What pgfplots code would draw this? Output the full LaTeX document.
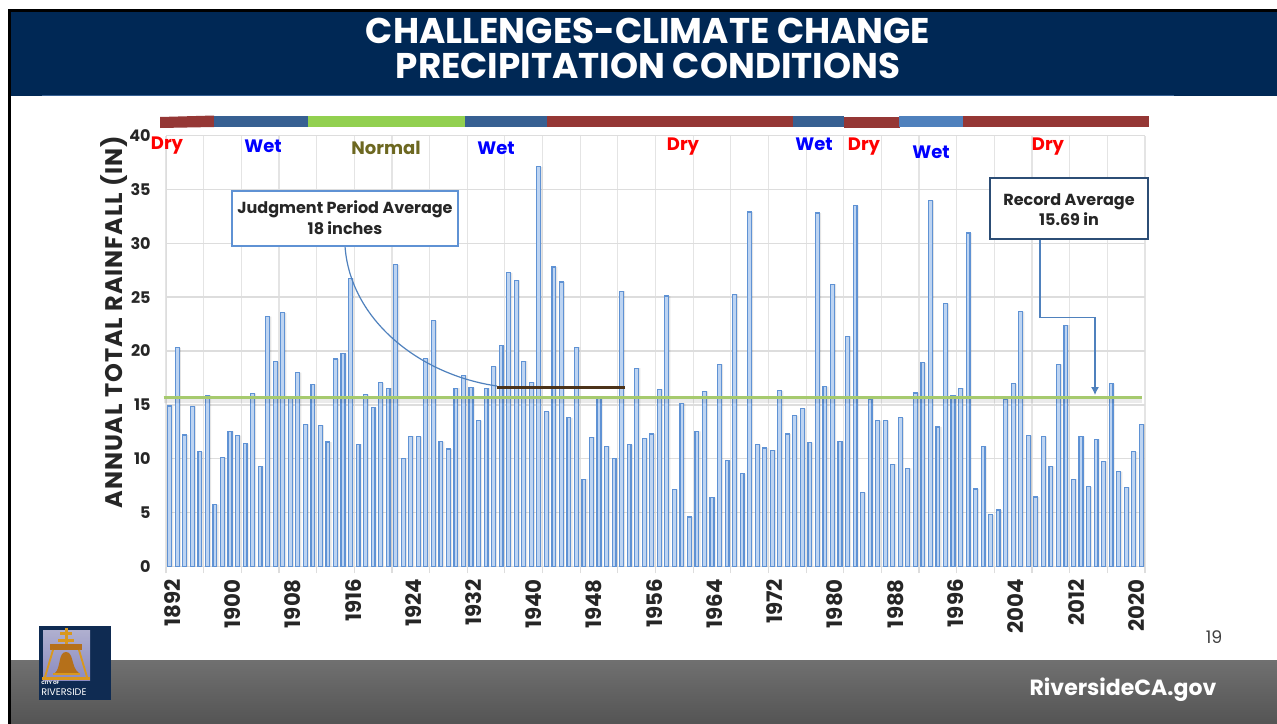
\documentclass[border=0pt]{standalone}
\usepackage{fontspec}
\usepackage{pgfplots}
\usepackage{pgfplotstable}
\usetikzlibrary{arrows.meta}
\pgfplotsset{compat=1.18}
\setmainfont{Poppins}
\definecolor{navy}{HTML}{002855}
\definecolor{logonavy}{HTML}{0F2B52}
\definecolor{dry}{HTML}{953735}
\definecolor{wet}{HTML}{376092}
\definecolor{wetb}{HTML}{4F81BD}
\definecolor{norm}{HTML}{92D050}
\definecolor{grd}{HTML}{DDDDDD}
\definecolor{barline}{HTML}{5F92D4}
\definecolor{barfill}{HTML}{BDD4F2}
\definecolor{avgline}{HTML}{A6CA6E}
\definecolor{gold}{HTML}{D9981E}
\definecolor{bronze}{HTML}{B5701A}
\pgfplotstableread{
year rain
1892 14.9
1893 20.3
1894 12.2
1895 14.85
1896 10.65
1897 15.9
1898 5.75
1899 10.1
1900 12.55
1901 12.15
1902 11.4
1903 16.05
1904 9.3
1905 23.2
1906 19.0
1907 23.55
1908 15.8
1909 18.0
1910 13.2
1911 16.9
1912 13.1
1913 11.55
1914 19.25
1915 19.75
1916 26.75
1917 11.35
1918 15.95
1919 14.75
1920 17.05
1921 16.55
1922 28.0
1923 10.0
1924 12.1
1925 12.05
1926 19.3
1927 22.8
1928 11.6
1929 10.9
1930 16.55
1931 17.75
1932 16.6
1933 13.55
1934 16.55
1935 18.55
1936 20.5
1937 27.25
1938 26.55
1939 19.05
1940 17.1
1941 37.1
1942 14.35
1943 27.8
1944 26.4
1945 13.8
1946 20.35
1947 8.1
1948 12.0
1949 15.6
1950 11.15
1951 10.0
1952 25.55
1953 11.3
1954 18.4
1955 11.9
1956 12.3
1957 16.45
1958 25.1
1959 7.15
1960 15.15
1961 4.6
1962 12.55
1963 16.25
1964 6.4
1965 18.75
1966 9.85
1967 25.25
1968 8.6
1969 32.9
1970 11.3
1971 11.0
1972 10.8
1973 16.3
1974 12.3
1975 14.0
1976 14.65
1977 11.5
1978 32.8
1979 16.7
1980 26.2
1981 11.6
1982 21.35
1983 33.5
1984 6.85
1985 15.55
1986 13.55
1987 13.55
1988 9.5
1989 13.8
1990 9.1
1991 16.1
1992 18.9
1993 33.95
1994 12.95
1995 24.4
1996 15.85
1997 16.55
1998 30.95
1999 7.2
2000 11.15
2001 4.8
2002 5.25
2003 15.5
2004 16.95
2005 23.65
2006 12.15
2007 6.45
2008 12.05
2009 9.3
2010 18.75
2011 22.4
2012 8.1
2013 12.05
2014 7.4
2015 11.8
2016 9.75
2017 16.95
2018 8.8
2019 7.35
2020 10.65
2021 13.2
}\raintable
\begin{document}
\begin{tikzpicture}[x=0.75pt,y=-0.75pt]
\path[use as bounding box,fill=white] (0,0) rectangle (1277,724);
% slide frame
\fill[black] (8,9) rectangle (11,724);
\fill[black] (8,9) rectangle (1277,12);
\fill[navy] (11,12) rectangle (1277,96);
\draw[color=wet,line width=0.75pt] (42,95.5) -- (1174,95.5);
\shade[top color=black!56,bottom color=black!67] (11,660) rectangle (1277,724);
\node[white,font=\fontsize{26.8pt}{26.8pt}\selectfont\bfseries] at (648,31) {CHALLENGES-CLIMATE CHANGE};
\node[white,font=\fontsize{26.8pt}{26.8pt}\selectfont\bfseries] at (648,66) {PRECIPITATION CONDITIONS};
\begin{axis}[
  at={(124.5pt,-424.875pt)},anchor=south west,scale only axis,
  width=734.25pt,height=323.25pt,
  xmin=1891.5,xmax=2021.5,ymin=0,ymax=40,
  axis line style={color=grd,line width=0.75pt},
  axis x line*=bottom,axis y line*=left,
  ytick={0,5,...,40},
  xtick={1891.5,1896.5,...,2021.5},
  xticklabels={},
  grid=major,
  x grid style={color=grd!80,line width=0.9pt},
  y grid style={color=grd,line width=1pt},
  x tick style={color=grd,line width=0.9pt},
  y tick style={draw=none},
  xtick align=outside,ytick align=outside,
  major tick length=5pt,
  extra x ticks={1892,1900,1908,1916,1924,1932,1940,1948,1956,1964,1972,1980,1988,1996,2004,2012,2020},
  extra x tick labels={1892,1900,1908,1916,1924,1932,1940,1948,1956,1964,1972,1980,1988,1996,2004,2012,2020},
  extra x tick style={major tick length=0pt,grid=none,tick style={draw=none}},
  x tick label style={rotate=90,anchor=east,font=\fontsize{16pt}{16pt}\selectfont\bfseries,black!85,xshift=-6pt,yshift=-2pt},
  y tick label style={font=\fontsize{12pt}{12pt}\selectfont\bfseries,black!85,xshift=-3pt},
  /pgf/number format/assume math mode=true,
  /pgf/number format/1000 sep={},
  ylabel={\addfontfeature{LetterSpace=4.0}ANNUAL TOTAL RAINFALL (IN)},
  ylabel style={at={(axis description cs:-0.053,0.567)},anchor=center,rotate=0,font=\fontsize{18pt}{18pt}\selectfont\bfseries,black!85},
  clip=false,
]
\addplot[ybar,bar width=3.2pt,bar shift=1.1pt,draw=none,fill=black,opacity=0.10,forget plot] table[x=year,y=rain] {\raintable};
\addplot[ybar,bar width=2.9pt,bar shift=0pt,draw=barline,line width=0.9pt,fill=barfill,forget plot] table[x=year,y=rain] {\raintable};
\addplot[color=black,opacity=0.08,line width=5pt,forget plot] coordinates {(1891.2,15.5) (2021.1,15.5)};
\addplot[color=avgline,line width=2.3pt,forget plot] coordinates {(1891.2,15.69) (2021.1,15.69)};
\addplot[color=black!60!brown,line width=2.6pt,forget plot] coordinates {(1935.5,16.6) (1952.5,16.6)};
\end{axis}
% period strip
\fill[dry] (160,117) -- (214,115.5) -- (214,127) -- (160,128) -- cycle;
\fill[wet] (214,116) rectangle (308,127);
\fill[norm] (308,116) rectangle (465,127);
\fill[wet] (465,116) rectangle (547,127);
\fill[dry] (547,116) rectangle (793,127);
\fill[dry] (844,117) rectangle (900,128);
\fill[wet] (793,116) rectangle (844,127);
\fill[wetb] (899,116) rectangle (963,127);
\fill[dry] (963,116) rectangle (1149,127);
% period names
\begin{scope}[font=\fontsize{13.5pt}{13.5pt}\selectfont\bfseries]
\node[red] at (167,146) {Dry};
\node[blue] at (263,146) {Wet};
\node[color=olive!70!black] at (386,148) {Normal};
\node[blue] at (496,148) {Wet};
\node[red] at (683,147) {Dry};
\node[blue] at (814,144) {Wet};
\node[red] at (864,147) {Dry};
\node[blue] at (931,152) {Wet};
\node[red] at (1048,147) {Dry};
\end{scope}
% callouts
\draw[color=wetb,line width=0.9pt] (345,246) .. controls (350,320) and (420,375) .. (497,386);
\draw[color=barline,fill=white,line width=1.1pt] (232,191) rectangle (458,246);
\node[align=center,font=\fontsize{12pt}{15.5pt}\selectfont\bfseries,black!85] at (345,218) {Judgment Period Average\\18 inches};
\draw[color=wetb,line width=0.9pt,-{Latex[length=6pt,width=6pt]}] (1040,239) -- (1040,317.5) -- (1095,317.5) -- (1095,395);
\draw[color=wet!80!black,fill=white,line width=1.1pt] (990,178) rectangle (1148,239);
\node[align=center,font=\fontsize{12pt}{15.5pt}\selectfont\bfseries,black!85] at (1069,209.5) {Record Average\\15.69 in};
% page number and footer
\node[font=\fontsize{13pt}{13pt}\selectfont,black!75] at (1214,637) {19};
\node[white,font=\fontsize{16.5pt}{16.5pt}\selectfont\bfseries] at (1123,690) {RiversideCA.gov};
% logo
\fill[logonavy] (39,626) rectangle (111,700);
\shade[top color=blue!25!gray!50!white,bottom color=blue!30!gray!70!white] (43,630) rectangle (90,680);
\fill[gold] (64.5,628) rectangle (67.5,644);
\fill[gold] (60,632) rectangle (72,635);
\fill[gold] (58,639) rectangle (74,642);
\fill[bronze] (50,644) rectangle (82,650);
\draw[gold,line width=1.4pt] (53,650) -- (45,677);
\draw[gold,line width=1.4pt] (79,650) -- (87,677);
\fill[gold] (42,677) rectangle (90,680);
\fill[bronze] (55,673) .. controls (61,668) and (58,652) .. (66,652) .. controls (74,652) and (71,668) .. (79,673) -- cycle;
\fill[gold] (53,673) rectangle (80,675);
\node[white,font=\fontsize{3.5pt}{3.5pt}\selectfont\bfseries,anchor=west,inner sep=0] at (41,683) {CITY OF};
\node[white,font=\fontsize{7.2pt}{7.2pt}\selectfont,anchor=west,inner sep=0] at (41,692) {RIVERSIDE};
\end{tikzpicture}
\end{document}
